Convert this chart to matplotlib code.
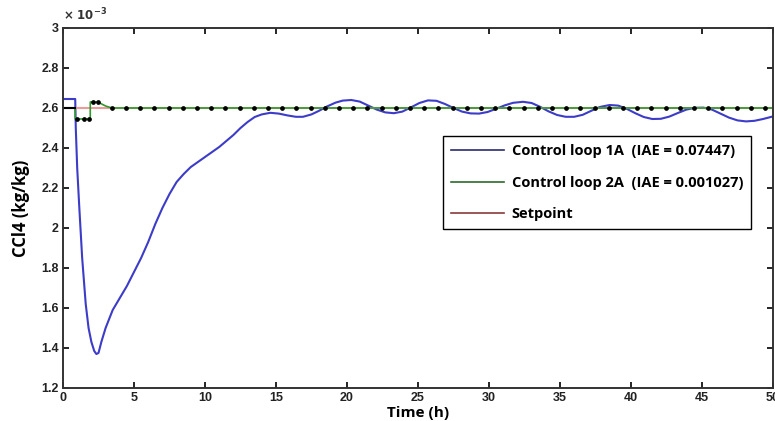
import numpy as np
import matplotlib.pyplot as plt
from matplotlib.ticker import FuncFormatter, MultipleLocator
from matplotlib.lines import Line2D

# CCl4 concentration (x 1e-3 kg/kg) vs time (h)
t_loop1 = [0, 0.86, 0.9, 1.0, 1.15, 1.35, 1.6, 1.8, 2.0, 2.2, 2.35, 2.5, 2.7, 3.0, 3.5,
           4.0, 4.5, 5.0, 5.5, 6.0, 6.5, 7.0, 7.5, 8.0, 8.5, 9.0, 9.5, 10.0, 10.5, 11.0,
           11.5, 12.0, 12.5, 13.0, 13.5, 14.0, 14.6, 15.2, 15.8, 16.4, 16.9, 17.5, 18.0,
           18.6, 19.2, 19.7, 20.3, 20.9, 21.5, 22.1, 22.7, 23.3, 23.9, 24.5, 25.1, 25.7,
           26.3, 26.9, 27.5, 28.1, 28.7, 29.3, 29.9, 30.5, 31.1, 31.7, 32.4, 33.0, 33.6,
           34.2, 34.8, 35.4, 36.0, 36.6, 37.2, 37.8, 38.5, 39.1, 39.7, 40.3, 40.9, 41.5,
           42.1, 42.7, 43.3, 43.9, 44.5, 45.1, 45.7, 46.3, 46.9, 47.5, 48.1, 48.7, 49.3, 50.0]
ccl4_loop1 = [2.645, 2.645, 2.5, 2.3, 2.1, 1.85, 1.62, 1.5, 1.43, 1.385, 1.37, 1.375, 1.43,
              1.5, 1.59, 1.65, 1.71, 1.78, 1.85, 1.93, 2.02, 2.1, 2.17, 2.23, 2.27, 2.305,
              2.33, 2.355, 2.38, 2.405, 2.435, 2.465, 2.50, 2.53, 2.555, 2.568, 2.576, 2.572,
              2.563, 2.556, 2.556, 2.568, 2.585, 2.608, 2.627, 2.637, 2.64, 2.632, 2.612,
              2.592, 2.578, 2.574, 2.582, 2.603, 2.625, 2.638, 2.636, 2.62, 2.6, 2.582,
              2.573, 2.572, 2.58, 2.596, 2.613, 2.626, 2.631, 2.625, 2.606, 2.583, 2.565,
              2.556, 2.556, 2.566, 2.586, 2.605, 2.615, 2.612, 2.596, 2.574, 2.555, 2.545,
              2.546, 2.557, 2.575, 2.592, 2.601, 2.602, 2.592, 2.572, 2.552, 2.538, 2.533,
              2.536, 2.545, 2.558]

t_loop2 = [0, 0.86, 0.86, 1.5, 1.92, 1.92, 2.45, 3.0, 3.44, 50]
ccl4_loop2 = [2.6, 2.6, 2.545, 2.545, 2.545, 2.63, 2.63, 2.61, 2.6, 2.6]

# sampling instants of loop 2 (black dots)
t_samples = [0.97, 1.51, 1.8, 2.08, 2.45] + [3.44 + k for k in range(47)]
ccl4_samples = [2.545, 2.545, 2.545, 2.63, 2.63] + [2.6] * 47

t_setpoint = [0, 50]
ccl4_setpoint = [2.6, 2.6]

labels = ['Control loop 1A  (IAE = 0.07447)',
          'Control loop 2A  (IAE = 0.001027)',
          'Setpoint']

scale = 1e-3

fig = plt.figure(figsize=(7.75, 4.21), dpi=100)
ax = fig.add_axes([63 / 775, 1 - 388 / 421, 710 / 775, 360 / 421])

ax.plot(t_loop1, np.array(ccl4_loop1) * scale, color='#3c3cc8', lw=1.5)
ax.plot(t_setpoint, np.array(ccl4_setpoint) * scale, color='#ee9a9a', lw=1.5)
ax.plot(t_loop2, np.array(ccl4_loop2) * scale, color='#2e9a2e', lw=1.2)
ax.plot(t_loop2[:2], np.array(ccl4_loop2[:2]) * scale, color='black', lw=1.5)
ax.plot(t_samples, np.array(ccl4_samples) * scale, ls='none', marker='o',
        ms=2.4, color='black')

ax.set_xlim(0, 50)
ax.set_ylim(1.2e-3, 3e-3)
ax.xaxis.set_major_locator(MultipleLocator(5))
ax.yaxis.set_major_locator(MultipleLocator(0.2e-3))
ax.yaxis.set_major_formatter(FuncFormatter(lambda v, p: '%g' % round(v / scale, 3)))
ax.text(0.0, 1.012, r'$\mathbf{\times\ 10^{-3}}$', transform=ax.transAxes,
        fontsize=8.5, ha='left', va='bottom', color='#333333')

ax.tick_params(direction='in', top=True, right=True, length=4, width=1.2,
               labelsize=9, pad=3)
for lab in ax.get_xticklabels() + ax.get_yticklabels():
    lab.set_fontweight('bold')
    lab.set_family('Liberation Sans')
    lab.set_color('#222222')
for s in ax.spines.values():
    s.set_linewidth(1.4)
    s.set_color('#333333')

ax.set_xlabel('Time (h)', fontsize=11, fontweight='bold', family='Open Sans', labelpad=1)
ax.set_ylabel('CCl4 (kg/kg)', fontsize=12, fontweight='bold', family='Open Sans', labelpad=8)

handles = [Line2D([], [], color='#2b2b70', lw=1.2),
           Line2D([], [], color='#2e6a2e', lw=1.2),
           Line2D([], [], color='#8a3a3a', lw=1.2)]
leg = ax.legend(handles, labels, loc='upper left', bbox_to_anchor=(0.525, 0.72),
                fancybox=False, framealpha=1, edgecolor='black', handlelength=3.6,
                handletextpad=0.55, labelspacing=1.2, borderpad=0.55,
                prop={'family': 'Open Sans', 'weight': 'bold', 'size': 10.5})
leg.get_frame().set_linewidth(1.0)

fig.savefig('out.png', dpi=100)
